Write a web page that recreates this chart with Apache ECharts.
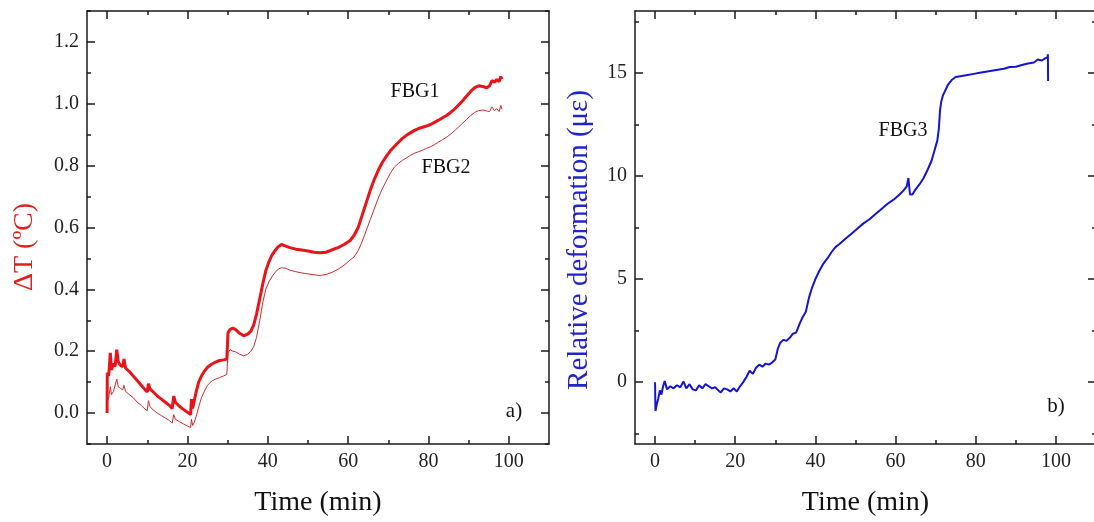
<!DOCTYPE html>
<html>
<head>
<meta charset="utf-8">
<script src="https://cdn.jsdelivr.net/npm/echarts@6/dist/echarts.min.js"></script>
<style>
  html, body { margin: 0; padding: 0; background: #fff; }
  #main { width: 1094px; height: 522px; }
</style>
</head>
<body>
<div id="main"></div>
<script>
// panel a) : temperature change of FBG1 / FBG2
let timeA = [
    0, 0.05, 0.4, 0.8, 1.1, 1.6, 2.0, 2.4, 2.8, 3.3,
    3.9, 4.2, 4.6, 5.5, 6.5, 7.5, 8.5, 9.5, 10.0, 10.3,
    10.7, 11.5, 12.5, 13.5, 14.5, 15.5, 16.2, 16.6, 17.0, 18.0,
    19.0, 20.0, 20.8, 21.0, 21.3, 21.7, 22.2, 22.8, 23.5, 24.2,
    25.0, 26.0, 27.0, 28.0, 29.0, 29.8, 30.1, 30.6, 31.3, 32.0,
    33.0, 34.0, 35.0, 35.8, 36.5, 37.2, 38.0, 38.8, 39.5, 40.3,
    41.0, 41.8, 42.6, 43.4, 44.5, 45.5, 47.0, 48.5, 50.0, 51.5,
    53.0, 54.5, 56.0, 57.5, 59.0, 60.5, 61.5, 62.5, 63.5, 64.5,
    65.5, 66.5, 67.5, 68.5, 69.5, 70.5, 71.5, 72.5, 73.5, 74.5,
    75.5, 76.5, 77.5, 78.5, 79.5, 80.5, 81.5, 82.5, 83.5, 84.5,
    85.5, 86.5, 87.5, 88.5, 89.5, 90.5, 91.5, 92.5, 93.5, 94.5,
    95.2, 95.8, 96.4, 97.0, 97.6, 98.0, 98.3
];
let fbg1 = [
    0.0, 0.13, 0.12, 0.195, 0.14, 0.16, 0.15, 0.205, 0.165, 0.155,
    0.15, 0.175, 0.145, 0.135, 0.12, 0.105, 0.09, 0.075, 0.068, 0.095,
    0.078, 0.068, 0.055, 0.045, 0.035, 0.025, 0.015, 0.055, 0.035, 0.022,
    0.012, 0.003, -0.005, 0.045, 0.015, 0.04, 0.07, 0.1, 0.12, 0.135,
    0.148, 0.158, 0.165, 0.17, 0.172, 0.175, 0.26, 0.27, 0.275, 0.27,
    0.258, 0.25, 0.255, 0.265, 0.285, 0.32, 0.37, 0.42, 0.46, 0.49,
    0.51, 0.525, 0.538, 0.545, 0.54, 0.535, 0.53, 0.527, 0.524, 0.52,
    0.518, 0.52, 0.528, 0.535, 0.545, 0.558, 0.575, 0.6, 0.64, 0.68,
    0.72, 0.755, 0.785, 0.81, 0.83, 0.848, 0.862, 0.875, 0.888, 0.898,
    0.906, 0.914, 0.92, 0.924, 0.928, 0.933, 0.94, 0.947, 0.955, 0.962,
    0.972, 0.983, 0.996, 1.01, 1.025, 1.04, 1.052, 1.058, 1.056, 1.052,
    1.058, 1.075, 1.07, 1.078, 1.072, 1.088, 1.08
];
let fbg2 = [
    0.0, 0.04, 0.05, 0.085, 0.06, 0.07, 0.075, 0.11, 0.085, 0.08,
    0.075, 0.09, 0.07, 0.06, 0.05, 0.035, 0.025, 0.012, 0.008, 0.04,
    0.02, 0.01, 0.0, -0.008, -0.016, -0.024, -0.032, -0.005, -0.02, -0.028,
    -0.035, -0.042, -0.047, -0.02, -0.04, -0.03, -0.01, 0.02, 0.05, 0.07,
    0.09, 0.103, 0.11, 0.115, 0.12, 0.125, 0.195, 0.205, 0.2, 0.198,
    0.19, 0.185, 0.19, 0.2, 0.215, 0.245, 0.3, 0.36, 0.4, 0.425,
    0.44, 0.455, 0.465, 0.47, 0.468, 0.462, 0.457, 0.453, 0.45, 0.447,
    0.445, 0.448, 0.455, 0.465, 0.478, 0.495, 0.505, 0.525, 0.555, 0.59,
    0.625, 0.66, 0.695, 0.725, 0.75, 0.775, 0.795, 0.807, 0.817, 0.825,
    0.833, 0.84, 0.845, 0.85, 0.856, 0.861, 0.868, 0.876, 0.884, 0.892,
    0.902, 0.913, 0.925, 0.937, 0.95, 0.962, 0.972, 0.978, 0.98, 0.977,
    0.975, 0.99, 0.978, 0.984, 0.975, 0.995, 0.982
];

// panel b) : relative deformation of FBG3
let timeB = [
    0, 0.1, 0.4, 0.8, 1.2, 1.6, 2.0, 2.4, 3.0, 3.8,
    4.6, 5.5, 6.3, 7.1, 7.8, 8.6, 9.4, 10.2, 11.0, 11.8,
    12.6, 13.4, 14.2, 15.0, 15.8, 16.4, 17.2, 18.0, 18.8, 19.6,
    20.4, 21.2, 22.0, 22.8, 23.6, 24.4, 25.2, 26.0, 26.8, 27.6,
    28.4, 29.2, 30.0, 30.6, 31.2, 32.0, 32.8, 33.6, 34.4, 35.2,
    36.0, 36.8, 37.6, 38.4, 39.2, 40.0, 41.0, 42.0, 43.0, 44.0,
    45.0, 46.0, 47.5, 49.0, 50.5, 52.0, 53.5, 55.0, 56.5, 58.0,
    59.5, 61.0, 62.0, 62.8, 63.2, 63.6, 64.2, 65.0, 66.0, 67.0,
    68.0, 69.0, 69.8, 70.4, 70.8, 71.1, 71.4, 71.8, 72.3, 73.0,
    74.0, 75.0, 76.5, 78.0, 79.5, 81.0, 82.5, 84.0, 85.5, 87.0,
    88.5, 90.0, 91.5, 93.0, 94.5, 95.5, 96.5, 97.3, 97.9, 98.0, 98.05
];
let fbg3 = [
    0.0, -1.4, -1.1, -0.8, -0.4, -0.6, -0.2, 0.05, -0.35, -0.2,
    -0.3, -0.15, -0.25, 0.03, -0.3, -0.1, -0.35, -0.4, -0.15, -0.3,
    -0.1, -0.2, -0.3, -0.25, -0.4, -0.5, -0.3, -0.35, -0.45, -0.3,
    -0.45, -0.2, 0.0, 0.25, 0.55, 0.4, 0.7, 0.85, 0.75, 0.9,
    0.85, 0.95, 1.1, 1.6, 1.9, 2.05, 2.0, 2.15, 2.35, 2.4,
    2.8, 3.15, 3.4, 4.1, 4.6, 5.0, 5.4, 5.75, 6.0, 6.3,
    6.55, 6.7, 6.95, 7.2, 7.45, 7.7, 7.9, 8.15, 8.4, 8.65,
    8.85, 9.1, 9.3, 9.5, 9.9, 9.1, 9.1, 9.35, 9.6, 9.9,
    10.3, 10.75, 11.3, 11.7, 12.3, 13.2, 13.6, 13.9, 14.1, 14.4,
    14.65, 14.8, 14.85, 14.9, 14.95, 15.0, 15.05, 15.1, 15.15, 15.2,
    15.28, 15.3, 15.38, 15.45, 15.5, 15.65, 15.6, 15.7, 15.75, 15.9, 14.6
];

// tick positions
let timeTicks = [0, 20, 40, 60, 80, 100];
let timeMinor = [10, 30, 50, 70, 90];
let dtTicks = [0, 0.2, 0.4, 0.6, 0.8, 1.0, 1.2];
let dtMinor = [-0.1, 0.1, 0.3, 0.5, 0.7, 0.9, 1.1, 1.3];
let defTicks = [0, 5, 10, 15];
let defMinor = [-2.5, 2.5, 7.5, 12.5, 17.5];

const serif = "'Liberation Serif', 'Times New Roman', serif";
const ink = "#1a1a1a";

let dom = document.getElementById("main");
let myChart = echarts.init(dom, null, { renderer: "canvas" });

// one axis of the frame; several are stacked on each side to get long + short ticks
function frameAxis(grid, pos, min, max, ticks, len, withLine, labelFmt) {
    let ax = {
        type: "value",
        gridIndex: grid,
        position: pos,
        min: min,
        max: max,
        axisLine: { show: withLine, onZero: false, lineStyle: { color: ink, width: 1.5 } },
        axisTick: { show: true, inside: true, length: len, customValues: ticks,
            lineStyle: { color: ink, width: 1.5 } },
        axisLabel: { show: false },
        splitLine: { show: false },
    };
    if (labelFmt) {
        ax.axisLabel = {
            show: true, customValues: ticks, formatter: labelFmt, margin: 8,
            color: "#222", fontSize: 20, fontFamily: serif,
        };
    }
    return ax;
}

let fmtInt = (v) => String(Math.round(v));
let fmtOne = (v) => v.toFixed(1);

let xAxes = [];
let yAxes = [];
[0, 1].forEach((g) => {
    let xb = frameAxis(g, "bottom", -5, 110, timeTicks, 8, true, fmtInt);
    xb.name = "Time (min)";
    xb.nameLocation = "middle";
    xb.nameGap = 45;
    xb.nameTextStyle = { fontSize: 28, fontFamily: serif, color: "#111" };
    xAxes.push(xb);
    xAxes.push(frameAxis(g, "bottom", -5, 110, timeMinor, 4, false));
    xAxes.push(frameAxis(g, "top", -5, 110, timeTicks, 8, true));
    xAxes.push(frameAxis(g, "top", -5, 110, timeMinor, 4, false));
});
yAxes.push(frameAxis(0, "left", -0.1, 1.3, dtTicks, 8, true, fmtOne));
yAxes.push(frameAxis(0, "left", -0.1, 1.3, dtMinor, 4, false));
yAxes.push(frameAxis(0, "right", -0.1, 1.3, dtTicks, 8, true));
yAxes.push(frameAxis(0, "right", -0.1, 1.3, dtMinor, 4, false));
yAxes.push(frameAxis(1, "left", -3, 18, defTicks, 8, true, fmtInt));
yAxes.push(frameAxis(1, "left", -3, 18, defMinor, 4, false));
// the right frame edge of panel b) falls just outside the picture, only its ticks show
yAxes.push(frameAxis(1, "right", -3, 18, defTicks, 8, false));
yAxes.push(frameAxis(1, "right", -3, 18, defMinor, 4, false));

let pairs = (xs, ys) => xs.map((x, i) => [x, ys[i]]);

function label(text, x, y, size, color, rot) {
    return {
        type: "text", x: x, y: y, rotation: rot || 0,
        style: {
            text: text, fill: color, fontSize: size, fontFamily: serif,
            textAlign: "center", textVerticalAlign: "middle",
            align: "center", verticalAlign: "middle",
        },
    };
}

let option = {
    backgroundColor: "#fff",
    animation: false,
    grid: [
        { left: 87, top: 11, width: 462, height: 433, outerBoundsMode: "none" },
        { left: 635, top: 11, width: 461, height: 433, outerBoundsMode: "none" },
    ],
    xAxis: xAxes,
    yAxis: yAxes,
    series: [
        {
            name: "FBG2", type: "line", xAxisIndex: 0, yAxisIndex: 0,
            data: pairs(timeA, fbg2), showSymbol: false,
            lineStyle: { color: "#d42a2a", width: 1 },
        },
        {
            name: "FBG1", type: "line", xAxisIndex: 0, yAxisIndex: 0,
            data: pairs(timeA, fbg1), showSymbol: false,
            lineStyle: { color: "#e8141a", width: 3 },
        },
        {
            name: "FBG3", type: "line", xAxisIndex: 4, yAxisIndex: 4,
            data: pairs(timeB, fbg3), showSymbol: false,
            lineStyle: { color: "#1414d2", width: 2 },
        },
    ],
    graphic: [
        label("\u0394T (\u00baC)", 25, 247, 28, "#e0201e", Math.PI / 2),
        label("Relative deformation (\u03bc\u03b5)", 579, 240, 29, "#2323cc", Math.PI / 2),
        label("FBG1", 415, 92, 20, "#111"),
        label("FBG2", 446, 168, 20, "#111"),
        label("a)", 514, 411, 21, "#111"),
        label("FBG3", 903, 131, 20, "#111"),
        label("b)", 1056, 406, 21, "#111"),
    ],
};

if (option && typeof option === "object") {
    myChart.setOption(option);
}

window.addEventListener("resize", myChart.resize);
</script>
</body>
</html>
